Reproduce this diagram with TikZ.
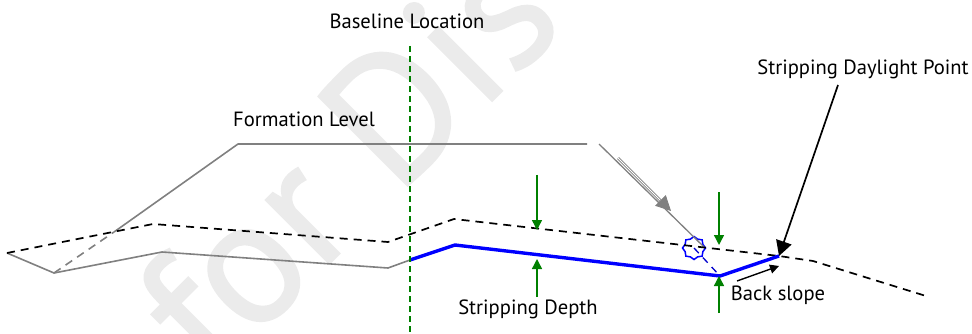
\documentclass[tikz,border=0pt]{standalone}
\usepackage{fontspec}
\setmainfont{PT Sans}
\newfontfamily\wmfont[FakeBold=1]{PT Sans}
\usetikzlibrary{arrows.meta}
\usetikzlibrary{shapes.geometric}
\definecolor{wmark}{gray}{0.92}
\definecolor{dkgreen}{rgb}{0,0.5,0}
\begin{document}
\begin{tikzpicture}[x=1pt,y=-1pt]
\tikzstyle{label}=[inner sep=0pt,font=\fontsize{20.6}{24}\selectfont]
\tikzstyle{ground}=[black,line width=1.7pt,dash pattern=on 8pt off 6pt]
\tikzstyle{level}=[gray,line width=1.6pt]
\tikzstyle{strip}=[blue,line width=3.4pt,line join=round]
\tikzstyle{gap}=[dkgreen,line width=1.4pt,-{Triangle[length=10pt,width=10pt]}]
\useasboundingbox (0,0) rectangle (972,334);

\node[wmark,rotate=45,anchor=base west,inner sep=0pt,font=\wmfont\fontsize{180}{180}\selectfont] (wm) at (212,381) {for Dis};

\coordinate (g1) at (7,253);
\coordinate (g2) at (54,273);
\coordinate (g3) at (162,252);
\coordinate (g4) at (388,268);
\coordinate (b1) at (410,260);
\coordinate (b2) at (455,245);
\coordinate (b3) at (720,276);
\coordinate (b4) at (779,256);
\coordinate (e1) at (153,224);
\coordinate (e2) at (388,242);
\coordinate (e3) at (454,219);
\coordinate (e4) at (813,261);
\coordinate (e5) at (926,296);
\coordinate (f1) at (114,232);
\coordinate (f2) at (238,144);
\coordinate (f3) at (587,144);
\coordinate (f4) at (599,144);
\coordinate (f5) at (704,247);
\coordinate (base1) at (410,46);
\coordinate (base2) at (410,334);

\node[label] (baseline) at (407,21) {Baseline Location};
\node[label] (formation) at (304,119) {Formation Level};
\node[label] (daylight) at (863,69) {Stripping Daylight Point};
\node[label] (depth) at (528,309) {Stripping Depth};
\node[label] (backslope) at (778,295) {Back slope};
\node[star,star points=8,star point ratio=1.2,minimum size=23pt,inner sep=0pt,draw=blue,line width=1.5pt] (hinge) at (694,248) {};

\draw[level] (g1) -- (g2) -- (g3) -- (g4) -- (b1);
\draw[level,dash pattern=on 8pt off 6pt] (g2) -- (f1);
\draw[level,line join=round] (f1) -- (f2) -- (f3);
\draw[level,line width=1.3pt] (f4) -- (f5);
\draw[ground] (g1) -- (e1) -- (e2) -- (e3) -- (b4) -- (e4) -- (e5);
\draw[strip] (b1) -- (b2) -- (b3) -- (b4);
\draw[blue!80!black,line width=1.3pt,dash pattern=on 7pt off 6pt] (hinge.center) -- (b3);
\draw[dkgreen,line width=1.4pt,dash pattern=on 6pt off 4pt] (base1) -- (base2);

\coordinate (t1a) at (537,175);
\coordinate (t1b) at (537,230);
\coordinate (t2a) at (537,297);
\coordinate (t2b) at (537,259);
\coordinate (t3a) at (719,192);
\coordinate (t3b) at (719,245);
\coordinate (t4a) at (719,313);
\coordinate (t4b) at (719,276);
\draw[gap] (t1a) -- (t1b);
\draw[gap] (t2a) -- (t2b);
\draw[gap] (t3a) -- (t3b);
\draw[gap] (t4a) -- (t4b);

\coordinate (d1) at (618,158);
\coordinate (d2) at (671,211);
\draw[gray,line width=0.8pt,double,double distance=1pt,-{Triangle[length=15pt,width=15pt,fill=gray]}] (d1) -- (d2);

\coordinate (a1) at (838,85);
\draw[black,line width=1.7pt,-{Triangle[length=15pt,width=16pt]}] (a1) -- (b4);
\coordinate (s1) at (737,281);
\coordinate (s2) at (779,266);
\draw[black,line width=1.4pt,-{Triangle[length=9pt,width=9pt]}] (s1) -- (s2);

\end{tikzpicture}
\end{document}
